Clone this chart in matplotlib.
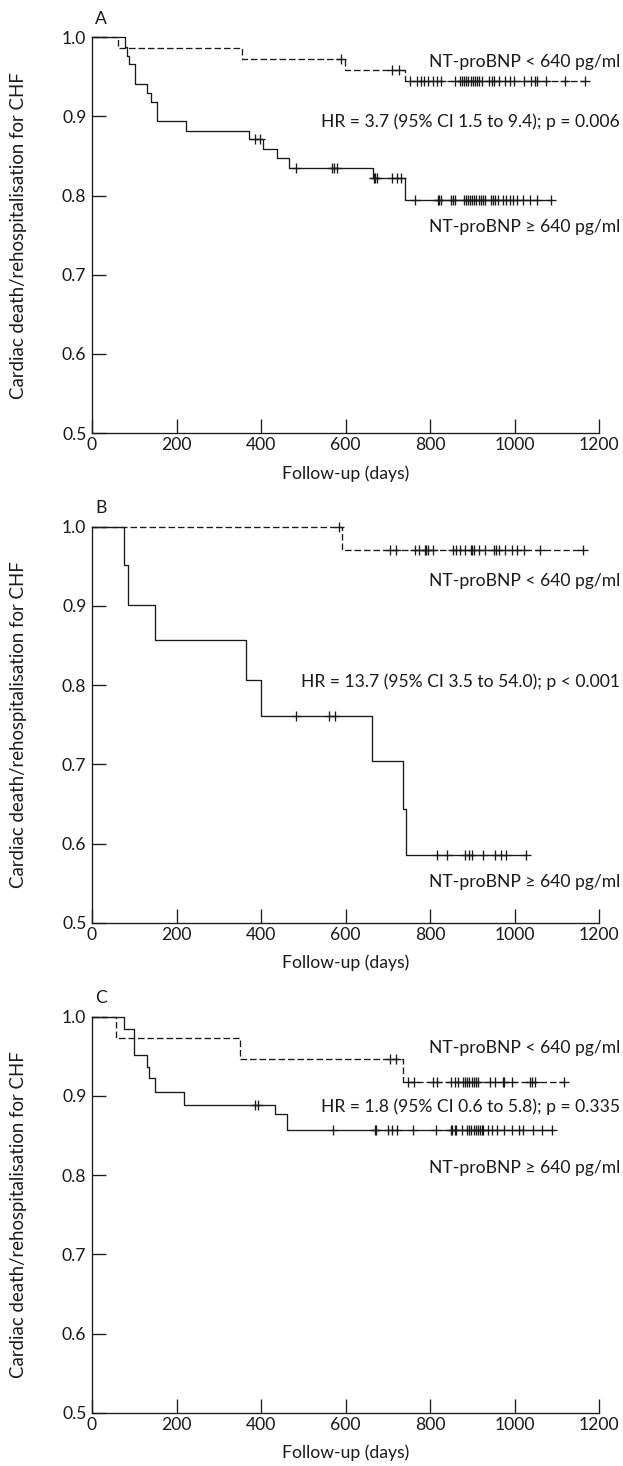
import numpy as np
import matplotlib
matplotlib.use("Agg")
import matplotlib.pyplot as plt

plt.rcParams['font.family'] = ['Lato', 'DejaVu Sans']

# ---------------- data ----------------
panel_labels = ["A", "B", "C"]
hr_texts = ["HR = 3.7 (95% CI 1.5 to 9.4); p = 0.006",
            "HR = 13.7 (95% CI 3.5 to 54.0); p < 0.001",
            "HR = 1.8 (95% CI 0.6 to 5.8); p = 0.335"]
low_label = "NT-proBNP < 640 pg/ml"
high_label = "NT-proBNP \u2265 640 pg/ml"

# Panel A
a_low_events = [62, 355, 598, 740]
a_low_surv = [0.987, 0.973, 0.959, 0.945]
a_low_cens = [589, 710, 727, 752, 770, 778, 786, 795, 808, 816, 825, 858, 871, 876,
              881, 886, 891, 896, 901, 906, 911, 916, 922, 939, 947, 951, 964, 977,
              989, 998, 1023, 1040, 1048, 1053, 1074, 1120, 1167]
a_high_events = [78, 84, 88, 102, 130, 139, 153, 223, 371, 405, 438, 466, 666, 741]
a_high_surv = [0.988, 0.977, 0.966, 0.941, 0.930, 0.918, 0.894, 0.882, 0.872, 0.859,
               0.847, 0.835, 0.822, 0.794]
a_high_cens = [385, 397, 484, 567, 573, 580, 668, 671, 675, 710, 722, 732, 765, 818,
               822, 826, 850, 855, 860, 880, 885, 890, 895, 900, 905, 910, 915, 920,
               925, 930, 944, 950, 955, 962, 972, 980, 989, 996, 1006, 1019, 1036,
               1053, 1087]

# Panel B
b_low_events = [592]
b_low_surv = [0.971]
b_low_cens = [584, 706, 719, 765, 774, 787, 791, 795, 808, 854, 862, 871, 884, 896,
              900, 905, 917, 930, 951, 957, 964, 977, 993, 1006, 1023, 1061, 1163]
b_high_events = [76, 85, 149, 365, 400, 662, 736, 743]
b_high_surv = [0.952, 0.901, 0.857, 0.807, 0.761, 0.704, 0.644, 0.586]
b_high_cens = [482, 560, 575, 816, 841, 884, 892, 900, 926, 955, 968, 981, 1028]

# Panel C
c_low_events = [57, 351, 737]
c_low_surv = [0.973, 0.946, 0.917]
c_low_cens = [706, 719, 748, 761, 808, 816, 849, 858, 866, 879, 884, 888, 892, 900,
              904, 909, 913, 943, 955, 972, 976, 993, 1036, 1042, 1048, 1116]
c_high_events = [75, 100, 130, 134, 148, 218, 434, 462]
c_high_surv = [0.984, 0.952, 0.936, 0.922, 0.905, 0.889, 0.877, 0.857]
c_high_cens = [385, 392, 571, 670, 673, 700, 710, 721, 759, 814, 849, 853, 858, 862,
               875, 888, 893, 898, 903, 908, 913, 918, 922, 926, 938, 947, 959, 976,
               993, 1010, 1019, 1044, 1065, 1089]

panels = [
    (a_low_events, a_low_surv, a_low_cens, a_high_events, a_high_surv, a_high_cens),
    (b_low_events, b_low_surv, b_low_cens, b_high_events, b_high_surv, b_high_cens),
    (c_low_events, c_low_surv, c_low_cens, c_high_events, c_high_surv, c_high_cens),
]

# text y positions (data units) per panel: low label, HR, high label
text_y = [(0.969, 0.893, 0.760), (0.931, 0.804, 0.552), (0.960, 0.886, 0.809)]

# ---------------- layout ----------------
W, H = 623, 1466
fig = plt.figure(figsize=(W / 100, H / 100), dpi=100)
left, right = 92 / W, 599 / W
tops = [37.3, 526.7, 1016.7]
bots = [433.0, 922.7, 1412.7]

col = '#1a1a1a'
fs = 12.6


def km_curve(events, surv, cens):
    t = np.concatenate([[0.0], np.asarray(events, float), [max(cens)]])
    s = np.concatenate([[1.0], np.asarray(surv, float), [surv[-1]]])
    levels = np.concatenate([[1.0], np.asarray(surv, float)])
    idx = np.searchsorted(np.asarray(events, float), np.asarray(cens, float), side='right')
    return t, s, np.asarray(cens, float), levels[idx]


for i, (le, ls, lc, he, hs, hc) in enumerate(panels):
    ax = fig.add_axes([left, 1 - bots[i] / H, right - left, (bots[i] - tops[i]) / H])
    ax.set_xlim(0, 1200)
    ax.set_ylim(0.5, 1.0)

    t, s, cx, cy = km_curve(le, ls, lc)
    ax.step(t, s, where='post', color=col, lw=0.95, dashes=(5.0, 2.2), clip_on=False)
    ax.plot(cx, cy, ls='none', marker='+', ms=6.5, mew=0.95, color=col, clip_on=False)

    t, s, cx, cy = km_curve(he, hs, hc)
    ax.step(t, s, where='post', color=col, lw=0.95, clip_on=False)
    ax.plot(cx, cy, ls='none', marker='+', ms=6.5, mew=0.95, color=col, clip_on=False)

    for sp in ['top', 'right']:
        ax.spines[sp].set_visible(False)
    for sp in ['left', 'bottom']:
        ax.spines[sp].set_color(col)
        ax.spines[sp].set_linewidth(0.95)

    ax.set_xticks(np.arange(0, 1201, 200))
    ax.set_yticks(np.arange(0.5, 1.01, 0.1))
    ax.set_yticklabels([f"{v:.1f}" for v in np.arange(0.5, 1.01, 0.1)])
    ax.tick_params(direction='in', length=10, width=0.95, color=col,
                   labelsize=fs, labelcolor=col)
    ax.tick_params(axis='x', pad=3)
    ax.tick_params(axis='y', pad=4)

    ax.set_xlabel("Follow-up (days)", fontsize=fs, color=col)
    ax.xaxis.set_label_coords(0.5, -32 / (bots[i] - tops[i]))
    ax.set_ylabel("Cardiac death/rehospitalisation for CHF", fontsize=fs + 0.8,
                  color=col, va='center')
    ax.yaxis.set_label_coords(-74 / 507, 0.5)

    ly, hy, gy = text_y[i]
    ax.text(1250, ly, low_label, ha='right', va='center', fontsize=fs, color=col,
            clip_on=False)
    ax.text(1250, hy, hr_texts[i], ha='right', va='center', fontsize=fs, color=col,
            clip_on=False)
    ax.text(1250, gy, high_label, ha='right', va='center', fontsize=fs, color=col,
            clip_on=False)
    ax.text(8, 1.0 + 0.0236, panel_labels[i], ha='left', va='center', fontsize=fs,
            color=col, clip_on=False)

fig.savefig("out.png", dpi=100)
